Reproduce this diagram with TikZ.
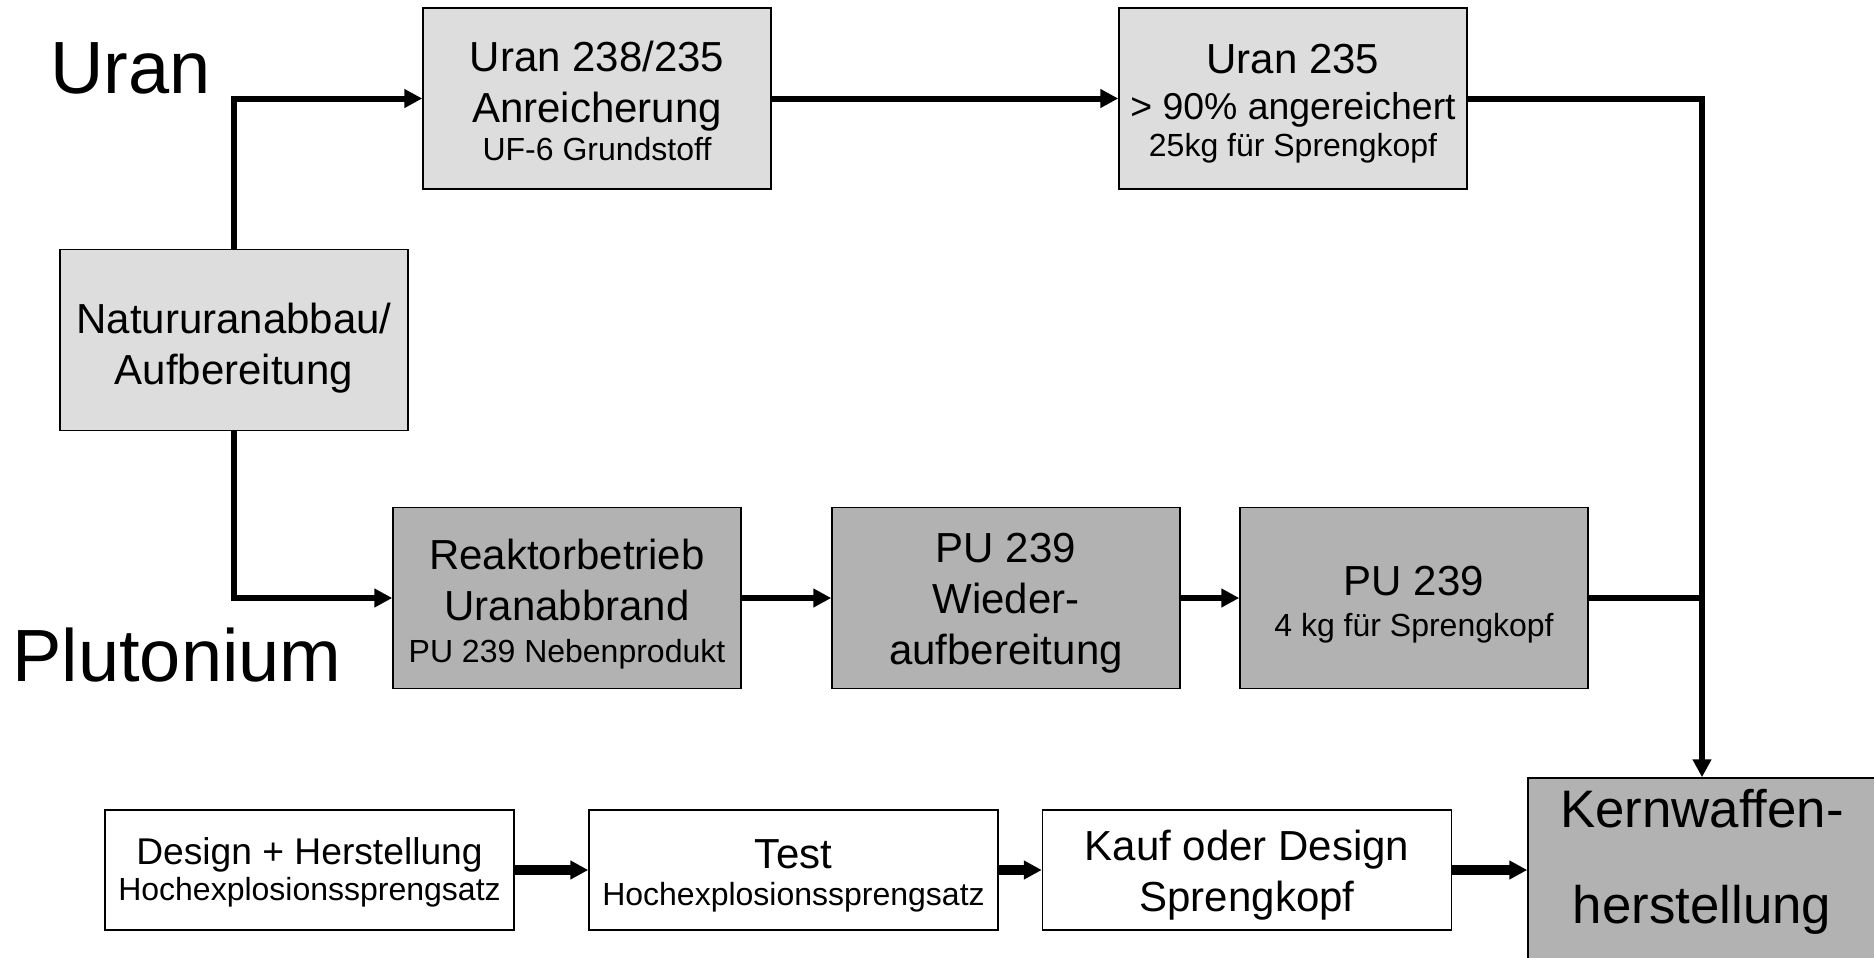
\documentclass[tikz,border=0pt]{standalone}
\usepackage{fontspec}
\setmainfont{Liberation Sans}
\usetikzlibrary{arrows.meta}
\definecolor{urgray}{RGB}{221,221,221}
\definecolor{pugray}{RGB}{178,178,178}
\newcommand{\txtmain}{\fontsize{21}{25.5}\selectfont}
\newcommand{\txtmid}{\fontsize{18.7}{22.4}\selectfont}
\newcommand{\txtsmall}{\fontsize{16}{19.2}\selectfont}
\newcommand{\txtdesign}{\fontsize{18.6}{21.6}\selectfont}
\newcommand{\txtbig}{\fontsize{26.4}{31.7}\selectfont}
\newcommand{\txtlabel}{\fontsize{37}{44}\selectfont}
\newcommand{\lift}[1]{\rule{0pt}{#1}}
\newcommand{\sink}[1]{\rule[-#1]{0pt}{0pt}}
\tikzset{
  box/.style={draw, line width=0.75pt, inner sep=0pt, align=center,
    minimum width=174pt, minimum height=90.5pt, font=\txtmain},
  urbox/.style={box, fill=urgray},
  pubox/.style={box, fill=pugray},
  hebox/.style={box, fill=white, minimum width=204.5pt, minimum height=60pt},
  flow/.style={line width=3pt, -{Triangle[length=9pt,width=9pt]}},
  feed/.style={line width=3pt},
  heflow/.style={line width=5pt, -{Triangle[length=9pt,width=9pt]}},
  biglabel/.style={inner sep=0pt, anchor=base west, font=\txtlabel}
}
\begin{document}
\begin{tikzpicture}[x=0.5pt,y=-0.5pt]
  \useasboundingbox (0,0) rectangle (1874,958);

  \node[biglabel] (uranlbl) at (50,93) {Uran};
  \node[biglabel] (plutlbl) at (12,681) {Plutonium};

  \node[urbox] (nat) at (234,340) {\lift{23.7pt}Natururanabbau/\\Aufbereitung};
  \node[urbox] (anr) at (597,98.5)
    {\lift{17.7pt}Uran 238/235\\Anreicherung\\[-6.5pt]{\txtsmall UF-6 Grundstoff}};
  \node[urbox] (u235) at (1293,98.5)
    {\lift{19.8pt}Uran 235\\[-2.5pt]{\txtmid > 90\% angereichert}\\[-7pt]{\txtsmall 25kg für Sprengkopf}};

  \node[pubox] (reak) at (567,598)
    {\lift{21pt}Reaktorbetrieb\\Uranabbrand\\[-4.5pt]{\txtsmall PU 239 Nebenprodukt}};
  \node[pubox] (wieder) at (1006,598) {\lift{19.8pt}PU 239\\Wieder-\\aufbereitung};
  \node[pubox] (pu) at (1414,598) {\lift{21pt}PU 239\\[-5pt]{\txtsmall 4 kg für Sprengkopf}};

  \node[hebox, font=\txtdesign] (design) at (309.5,870)
    {\lift{16.3pt}Design + Herstellung\\[-3.6pt]{\txtsmall Hochexplosionssprengsatz}};
  \node[hebox] (test) at (793.5,870)
    {\lift{20.4pt}Test\\[-7pt]{\txtsmall Hochexplosionssprengsatz}};
  \node[hebox] (kauf) at (1247,870) {\lift{20.4pt}Kauf oder Design\\Sprengkopf};
  \node[pubox, font=\txtbig] (kw) at (1702,868.5) {Kernwaffen-\\[16pt]herstellung\sink{12pt}};

  \draw[flow] (nat.north) |- (anr.west);
  \draw[flow] (anr) -- (u235);
  \draw[flow] (u235.east) -| (kw.north);
  \draw[flow] (nat.south) |- (reak.west);
  \draw[flow] (reak) -- (wieder);
  \draw[flow] (wieder) -- (pu);
  \draw[feed] (pu.east) -- (pu.east -| kw.north);
  \draw[heflow] (design) -- (test);
  \draw[heflow] (test) -- (kauf);
  \draw[heflow] (kauf.east) -- (kauf.east -| kw.west);
\end{tikzpicture}
\end{document}
